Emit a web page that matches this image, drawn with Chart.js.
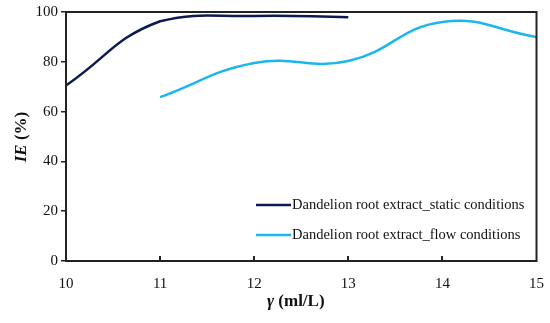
<!DOCTYPE html>
<html>
<head>
<meta charset="utf-8">
<script src="https://cdn.jsdelivr.net/npm/chart.js@4"></script>
<style>
  html, body { margin: 0; padding: 0; background: #fff; }
  #wrap { width: 550px; height: 323px; }
</style>
</head>
<body>
<div id="wrap"><canvas id="c" width="550" height="323"></canvas></div>
<script>
// data
const xTicks = [10, 11, 12, 13, 14, 15];
const staticX = [10, 11, 12, 13];
const staticIE = [70.5, 96.3, 98.4, 97.9];
const flowX = [11, 12, 13, 14, 15];
const flowIE = [65.8, 79.5, 80.3, 96, 90];
const labels = ['Dandelion root extract_static conditions', 'Dandelion root extract_flow conditions'];
const colors = ['#0c1a50', '#1cb6ea'];

const serif = '"Liberation Serif", "Times New Roman", serif';

// frame, inward x ticks, legend and axis titles
const extras = {
  id: 'extras',
  afterDraw(chart) {
    const ctx = chart.ctx;
    const a = chart.chartArea;
    const xs = chart.scales.x;
    ctx.save();
    ctx.strokeStyle = '#222';
    ctx.lineWidth = 2;
    ctx.strokeRect(a.left, a.top, a.right - a.left, a.bottom - a.top);

    // x ticks point into the plot
    xTicks.slice(1, -1).forEach(v => {
      const px = Math.round(xs.getPixelForValue(v));
      ctx.beginPath();
      ctx.moveTo(px, a.bottom);
      ctx.lineTo(px, a.bottom - 5);
      ctx.stroke();
    });

    // legend
    ctx.font = '14.5px ' + serif;
    ctx.textBaseline = 'middle';
    ctx.fillStyle = '#111';
    const rows = [205, 235];
    chart.data.datasets.forEach((ds, i) => {
      ctx.strokeStyle = ds.borderColor;
      ctx.lineWidth = 2.5;
      ctx.beginPath();
      ctx.moveTo(256, rows[i]);
      ctx.lineTo(291, rows[i]);
      ctx.stroke();
      ctx.fillText(ds.label, 292, rows[i]);
    });

    // x title: γ (ml/L)
    ctx.textBaseline = 'alphabetic';
    ctx.textAlign = 'left';
    let x0 = 267;
    const yb = 306;
    ctx.font = 'italic bold 17px ' + serif;
    ctx.fillText('γ', x0, yb);
    x0 += ctx.measureText('γ ').width;
    ctx.font = 'bold 17px ' + serif;
    ctx.fillText('(ml/L)', x0, yb);

    // y title: IE (%)
    ctx.translate(26, 137);
    ctx.rotate(-Math.PI / 2);
    ctx.font = 'italic bold 17px ' + serif;
    const w1 = ctx.measureText('IE ').width;
    ctx.font = 'bold 17px ' + serif;
    const w2 = ctx.measureText('(%)').width;
    let sx = -(w1 + w2) / 2;
    ctx.font = 'italic bold 17px ' + serif;
    ctx.fillText('IE', sx, 0);
    ctx.font = 'bold 17px ' + serif;
    ctx.fillText('(%)', sx + w1, 0);
    ctx.restore();
  }
};

new Chart(document.getElementById('c'), {
  type: 'line',
  data: {
    datasets: [
      {
        label: labels[0],
        data: staticX.map((x, i) => ({ x: x, y: staticIE[i] })),
        borderColor: colors[0],
        borderWidth: 2.5,
        pointRadius: 0,
        tension: 0.45,
        fill: false
      },
      {
        label: labels[1],
        data: flowX.map((x, i) => ({ x: x, y: flowIE[i] })),
        borderColor: colors[1],
        borderWidth: 2.5,
        pointRadius: 0,
        tension: 0.45,
        fill: false
      }
    ]
  },
  options: {
    responsive: false,
    animation: false,
    layout: { padding: { left: 0, right: 13, top: 12, bottom: 0 } },
    plugins: {
      legend: { display: false },
      tooltip: { enabled: false }
    },
    scales: {
      x: {
        type: 'linear',
        min: 10,
        max: 15,
        afterBuildTicks(scale) { scale.ticks = xTicks.map(v => ({ value: v })); },
        afterFit(scale) { scale.height = 62; },
        grid: { display: false },
        border: { display: true, color: '#222', width: 2 },
        ticks: { color: '#111', font: { family: serif, size: 15 }, padding: 6, maxRotation: 0 }
      },
      y: {
        min: 0,
        max: 100,
        afterFit(scale) { scale.width = 66; },
        grid: { drawOnChartArea: false, tickLength: 5, color: '#222', lineWidth: 1.5 },
        border: { display: true, color: '#222', width: 2 },
        ticks: { stepSize: 20, color: '#111', font: { family: serif, size: 15 }, padding: 3 }
      }
    }
  },
  plugins: [extras]
});
</script>
</body>
</html>
